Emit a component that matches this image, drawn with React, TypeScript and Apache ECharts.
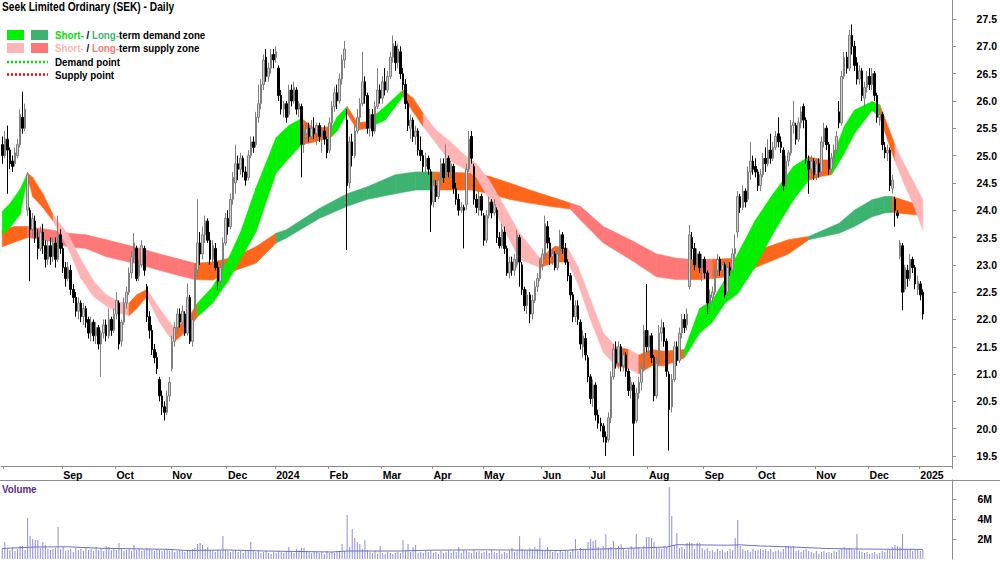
import React, { useEffect, useRef } from "react";
import * as echarts from "echarts";

// ---------- categories (ASX trading days) ----------
const START_DATE = "2023-07-31";
const END_DATE = "2025-01-20";
const HOLIDAYS = [
  "2023-12-25", "2023-12-26", "2024-01-01", "2024-01-26", "2024-03-29", "2024-04-01",
  "2024-04-25", "2024-06-10", "2024-12-25", "2024-12-26", "2025-01-01",
];
const MONTHS = ["Jan", "Feb", "Mar", "Apr", "May", "Jun", "Jul", "Aug", "Sep", "Oct", "Nov", "Dec"];

// ---------- price candles [open, close, low, high] ----------
const ohlc: number[][] = [
  [25.20,25.00,24.85,25.35],[25.00,25.30,24.95,25.45],[25.30,25.10,24.30,25.55],[25.10,24.85,24.75,25.15],[24.90,24.80,24.70,25.00],
  [24.85,25.05,24.80,25.15],[25.00,25.20,24.95,25.30],[25.20,25.75,25.15,25.85],[25.70,25.50,25.40,26.17],[25.50,25.85,25.45,25.95],
  [24.00,24.65,23.90,24.70],[24.00,23.65,22.70,24.05],[23.65,23.85,23.50,23.95],[23.80,23.50,23.40,23.90],[23.50,23.30,23.10,23.65],
  [23.30,23.60,23.25,23.70],[23.60,23.35,23.20,23.75],[23.35,23.10,22.95,23.45],[23.10,23.35,23.00,23.45],[23.35,23.15,23.00,23.50],
  [23.15,23.40,23.05,23.50],[23.40,23.10,22.95,23.50],[23.10,23.55,23.05,23.90],[23.55,23.30,23.20,23.65],[23.30,22.95,22.85,23.40],
  [22.95,22.75,22.60,23.05],[22.75,22.95,22.70,23.05],[22.90,22.55,22.45,23.00],[22.55,22.40,22.30,22.65],[22.40,22.15,22.05,22.50],
  [22.15,22.30,22.00,22.40],[22.30,22.05,21.95,22.35],[22.05,22.20,21.90,22.30],[22.20,21.95,21.85,22.25],[22.00,21.75,21.65,22.05],
  [21.75,21.95,21.60,22.05],[21.95,21.70,21.60,22.00],[21.70,21.85,21.55,21.95],[21.85,21.55,21.45,21.90],[21.55,21.75,20.95,21.80],
  [21.75,21.90,21.65,22.00],[21.90,21.70,21.60,22.00],[21.70,22.00,21.65,22.20],[22.00,21.80,21.70,22.05],[21.80,22.10,21.75,22.20],
  [22.10,22.35,22.00,22.50],[22.30,21.55,21.45,22.35],[21.60,21.95,21.50,22.00],[21.95,22.30,21.90,22.40],[22.30,22.50,22.20,22.60],
  [22.50,22.85,22.45,22.95],[22.85,23.15,22.75,23.25],[23.15,23.40,23.05,23.58],[23.30,22.75,22.70,23.35],[22.80,23.00,22.70,23.10],
  [23.00,23.35,22.95,23.45],[23.30,22.90,22.80,23.35],[22.60,22.05,21.95,22.65],[22.05,21.80,21.65,22.15],[21.80,21.45,21.35,21.90],
  [21.45,21.30,21.20,21.55],[21.30,21.10,21.00,21.40],[20.90,20.60,20.50,20.95],[20.60,20.40,20.25,20.70],[20.40,20.30,20.15,20.50],
  [20.30,20.60,20.25,20.70],[20.60,20.85,20.50,20.95],[21.10,21.60,21.05,21.70],[21.60,21.85,21.50,21.95],[21.85,22.10,21.75,22.20],
  [22.10,21.95,21.85,22.20],[21.95,22.15,21.90,22.25],[22.10,21.75,21.70,22.15],[21.75,22.40,21.70,22.66],[22.40,21.60,21.55,22.45],
  [21.60,22.00,21.50,22.10],[22.20,22.90,22.10,23.00],[22.90,23.40,22.80,24.20],[23.40,23.20,23.00,23.60],[23.20,23.55,23.10,23.70],
  [23.55,23.80,23.40,23.90],[23.80,23.45,23.40,23.85],[23.45,23.10,23.00,23.60],[23.10,23.35,23.00,23.45],[23.30,22.95,22.90,23.40],
  [22.95,22.70,22.55,23.05],[22.70,22.95,22.60,23.05],[22.95,23.40,22.90,23.50],[23.40,23.85,23.35,23.95],[23.85,23.70,23.55,24.00],
  [23.70,24.20,23.65,24.30],[24.20,24.60,24.10,24.70],[24.50,24.85,24.30,25.20],[24.85,24.75,24.55,25.00],[24.75,24.95,24.65,25.05],
  [24.95,24.70,24.60,25.00],[24.70,24.55,24.45,24.80],[24.60,25.00,24.55,25.10],[25.00,25.25,24.95,25.35],[25.25,25.15,25.05,25.35],
  [25.20,25.70,25.15,25.80],[25.70,25.95,25.60,26.30],[25.95,26.30,25.85,26.40],[26.30,26.75,26.20,26.85],[26.80,26.45,26.35,26.95],
  [26.45,26.60,26.35,26.70],[26.60,26.85,26.50,26.95],[26.85,26.75,26.60,26.95],[26.80,26.90,26.70,27.00],[26.60,26.10,26.00,26.65],
  [26.10,25.85,25.75,26.20],[25.85,25.95,25.70,26.00],[25.95,25.70,25.60,26.00],[25.75,26.20,25.70,26.30],[26.20,26.00,25.90,26.30],
  [26.00,26.25,25.95,26.35],[26.20,25.85,25.75,26.25],[25.85,25.95,25.70,26.00],[25.90,25.20,24.60,25.95],[25.20,25.45,25.05,25.55],
  [25.40,25.50,25.30,25.60],[25.50,25.35,25.25,25.60],[25.35,25.50,25.30,25.65],[25.50,25.40,25.30,25.70],[25.40,25.55,25.20,25.60],
  [25.55,25.35,25.25,25.60],[25.35,25.45,25.05,25.50],[25.45,25.30,25.20,25.55],[25.30,25.05,24.95,25.35],[25.10,25.60,25.05,25.70],
  [25.60,25.90,25.50,26.00],[25.90,26.15,25.80,26.25],[26.15,26.00,25.85,26.30],[26.00,26.40,25.95,26.50],[26.40,26.75,26.30,26.85],
  [26.75,26.95,26.60,27.10],[25.65,24.45,23.27,25.85],[24.50,25.25,24.40,25.35],[25.25,25.00,24.80,25.40],[25.00,25.45,24.95,25.55],
  [25.45,25.70,25.40,25.85],[25.70,25.95,25.60,26.05],[25.95,26.35,25.90,26.90],[26.35,26.10,25.95,26.45],[26.10,25.50,25.40,26.15],
  [25.50,25.75,25.35,25.85],[25.75,25.45,25.35,25.85],[25.45,25.90,25.40,26.00],[25.90,26.20,25.85,26.60],[26.20,26.05,25.95,26.30],
  [26.05,26.35,25.95,26.45],[26.35,26.20,26.10,26.60],[26.20,26.45,26.15,26.55],[26.45,26.80,26.40,26.90],[26.80,27.05,26.70,27.20],
  [27.00,26.70,26.55,27.10],[26.70,26.95,26.60,27.05],[26.90,26.50,26.40,27.00],[26.50,26.30,26.20,26.60],[26.30,25.95,25.85,26.40],
  [25.95,25.55,25.45,26.00],[25.50,25.65,25.30,25.75],[25.65,25.35,25.25,25.70],[25.35,25.45,25.20,25.55],[25.45,25.10,25.00,25.50],
  [25.10,25.00,24.90,25.35],[25.00,24.80,24.70,25.10],[24.80,24.95,24.70,25.05],[24.95,24.75,24.65,25.00],[24.70,24.10,23.60,24.75],
  [24.15,24.45,24.05,24.55],[24.45,24.25,24.15,24.55],[24.25,24.55,24.20,24.65],[24.55,24.85,24.45,24.95],[24.85,24.60,24.50,24.95],
  [24.60,24.95,24.55,25.20],[24.95,24.70,24.60,25.00],[24.70,24.85,24.55,24.90],[24.80,24.40,24.30,24.85],[24.40,24.20,24.10,24.50],
  [24.20,24.00,23.90,24.30],[24.00,24.05,23.95,24.15],[24.05,24.00,23.30,24.10],[24.10,24.75,24.00,24.85],[24.75,25.30,24.70,25.45],
  [25.35,24.95,24.85,25.45],[24.80,24.20,24.10,24.85],[24.20,24.05,23.95,24.30],[24.00,24.25,23.90,24.35],[24.25,24.00,23.90,24.30],
  [23.90,23.45,23.35,23.95],[23.45,23.90,23.40,24.00],[23.90,24.15,23.85,24.25],[24.15,23.95,23.85,24.20],[23.95,24.10,23.90,24.20],
  [24.00,23.50,23.40,24.05],[23.50,23.35,23.30,23.60],[23.35,23.65,23.30,23.75],[23.60,23.30,23.20,23.70],[23.30,22.85,22.80,23.35],
  [22.85,23.05,22.75,23.15],[23.05,22.90,22.80,23.15],[22.90,23.10,22.80,23.20],[23.00,23.55,22.95,23.64],[23.50,23.05,22.60,23.55],
  [23.00,22.55,22.45,23.05],[22.55,22.25,22.15,22.60],[22.25,22.45,22.10,22.55],[22.45,22.10,21.93,22.50],[22.10,22.35,22.00,22.45],
  [22.35,22.60,22.30,22.70],[22.60,22.75,22.50,22.85],[22.75,23.00,22.70,23.10],[23.00,23.20,22.90,23.30],[23.15,23.75,23.10,23.90],
  [23.70,23.40,23.30,23.80],[23.40,23.15,23.00,23.50],[23.15,23.20,23.00,23.30],[23.20,22.95,22.90,23.25],[22.95,23.20,22.90,23.30],
  [23.20,23.55,23.15,23.64],[23.55,23.30,23.20,23.60],[23.30,23.05,23.00,23.40],[23.05,22.80,22.70,23.10],[22.80,22.45,22.35,22.85],
  [22.45,22.05,21.95,22.50],[22.05,22.25,21.95,22.35],[22.25,22.00,21.90,22.35],[21.95,21.55,21.45,22.00],[21.50,21.70,21.30,21.80],
  [21.65,21.35,21.25,21.75],[21.30,20.95,20.85,21.35],[20.95,20.55,20.45,21.00],[20.55,20.80,20.40,20.90],[20.80,20.25,20.15,20.85],
  [20.25,20.10,20.00,20.35],[20.10,20.05,19.95,20.20],[20.05,19.85,19.75,20.10],[19.85,19.75,19.50,19.95],[19.80,20.20,19.75,20.30],
  [20.20,20.95,20.10,21.05],[20.95,21.45,20.90,21.55],[21.45,21.20,21.10,21.60],[21.20,21.50,21.10,21.60],[21.50,21.15,21.05,21.55],
  [21.15,21.35,21.05,21.45],[21.35,21.05,20.95,21.40],[21.05,20.70,20.60,21.10],[20.70,20.85,20.55,20.95],[20.80,20.10,19.50,20.85],
  [20.15,20.65,20.10,20.75],[20.65,20.85,20.55,20.95],[20.85,21.10,20.70,21.20],[21.10,21.80,21.05,21.90],[21.80,21.50,21.40,22.65],
  [21.50,21.70,21.35,21.80],[21.70,21.30,21.20,21.75],[21.30,20.60,20.50,21.35],[20.60,21.20,20.55,21.30],[21.20,21.75,21.15,21.90],
  [21.75,21.85,21.60,22.00],[21.85,21.60,21.50,21.95],[21.60,21.05,20.95,21.65],[21.00,20.35,19.60,21.05],[20.40,20.90,20.30,21.00],
  [20.90,21.50,20.85,21.60],[21.50,21.25,21.15,21.60],[21.25,21.75,21.20,21.85],[21.75,22.00,21.65,22.10],[22.00,21.85,21.75,22.10],
  [21.90,22.10,21.80,22.20],[22.60,23.55,22.55,23.73],[23.50,23.30,23.10,23.60],[23.30,23.00,22.90,23.40],[23.00,23.20,22.95,23.30],
  [23.20,22.95,22.85,23.25],[22.95,23.10,22.70,23.20],[23.10,22.85,22.75,23.15],[22.85,22.30,22.10,22.90],[22.30,22.45,22.15,22.55],
  [22.40,22.50,22.30,22.60],[22.50,22.90,22.45,23.00],[22.90,23.10,22.80,23.20],[23.10,22.90,22.80,23.15],[22.90,23.00,22.80,23.05],
  [23.00,22.45,22.40,23.05],[22.50,22.95,22.45,23.00],[22.95,22.90,22.80,23.05],[22.90,23.20,22.85,23.30],[23.20,23.30,23.10,23.55],
  [23.60,24.25,23.50,24.35],[24.25,24.05,23.95,24.30],[24.05,24.35,24.00,24.45],[24.35,24.15,24.05,24.40],[24.20,24.70,24.15,24.80],
  [24.70,24.90,24.55,25.25],[24.90,24.75,24.65,25.00],[24.80,24.70,24.60,24.95],[24.70,24.45,24.35,24.75],[24.45,24.65,24.35,24.75],
  [24.65,24.95,24.60,25.05],[24.95,24.85,24.70,25.15],[24.85,25.10,24.80,25.30],[25.10,24.95,24.85,25.40],[24.95,25.15,24.90,25.25],
  [25.15,25.35,25.10,25.45],[25.40,25.25,25.15,25.70],[25.25,25.15,25.05,25.35],[25.10,24.45,24.35,25.15],[24.50,24.90,24.45,25.00],
  [24.90,25.05,24.80,25.10],[25.05,25.55,25.00,25.65],[25.55,25.60,25.40,26.00],[25.55,25.30,25.20,25.60],[25.30,25.60,25.25,25.70],
  [25.60,25.80,25.50,25.90],[25.90,25.65,25.50,25.95],[25.65,24.95,24.85,25.70],[24.90,24.75,24.30,25.00],[24.75,24.90,24.65,25.00],
  [24.90,24.65,24.55,24.95],[24.65,24.85,24.55,24.95],[24.85,24.70,24.60,24.95],[24.70,25.25,24.65,25.35],[25.25,25.50,25.15,25.60],
  [25.50,25.20,25.10,25.55],[25.20,24.75,24.65,25.25],[24.75,24.95,24.70,25.05],[24.95,25.10,24.85,25.20],[25.10,25.35,25.05,25.45],
  [25.80,25.60,25.50,26.00],[25.60,26.45,25.55,26.55],[26.45,26.80,26.40,26.90],[26.80,26.60,26.50,26.90],[26.60,27.20,26.55,27.30],
  [27.20,27.00,26.85,27.40],[27.00,26.65,26.55,27.10],[26.70,26.40,26.30,26.80],[26.40,26.55,26.30,26.65],[26.55,26.10,26.00,26.60],
  [26.05,26.25,25.90,26.35],[26.25,26.45,26.15,26.55],[26.45,26.30,26.20,26.60],[26.30,26.50,26.20,26.60],[26.50,26.10,26.00,26.55],
  [26.10,25.70,25.60,26.15],[25.70,25.75,25.55,25.85],[25.75,25.20,25.10,25.80],[25.15,25.05,24.95,25.25],[25.05,25.10,24.90,25.20],
  [25.10,24.45,24.35,25.15],[24.40,24.55,24.30,24.65],[24.20,24.00,23.70,24.25],[23.95,23.90,23.85,24.00],[23.15,23.40,23.10,23.45],
  [23.35,22.50,22.17,23.40],[22.55,22.95,22.50,23.00],[22.90,22.75,22.60,23.00],[22.75,23.10,22.70,23.20],[23.10,22.95,22.85,23.15],
  [22.95,22.65,22.55,23.00],[22.55,22.70,22.45,22.80],[22.65,22.45,22.35,22.70],[22.50,22.10,22.00,22.55],
];

// ---------- volume (millions of shares) ----------
const volume: number[] = [
  1.1,1.7,1.0,0.9,1.2,0.8,1.0,1.3,1.3,0.9, 4.1,2.3,2.0,1.9,1.9,1.1,1.7,1.4,1.0,0.9,
  1.0,1.1,3.2,1.0,1.2,0.8,0.9,1.0,0.7,1.1, 0.9,1.0,0.8,1.2,0.9,1.0,0.8,1.2,0.9,1.0,
  0.8,1.3,1.2,0.9,1.0,0.9,1.6,1.0,0.8,0.9, 1.0,0.8,1.4,0.9,1.0,0.8,0.9,1.1,1.0,0.9,
  0.8,1.0,0.9,0.8,0.9,1.0,0.8,0.9,0.7,0.8, 0.9,0.8,0.7,0.9,0.8,1.0,1.1,1.5,1.6,1.4,
  1.0,1.2,0.9,0.8,0.7,0.9,0.8,2.3,0.9,0.8, 0.7,0.8,0.9,0.7,0.8,0.6,0.9,0.8,1.7,0.8,
  0.7,0.8,0.6,0.7,0.8,0.6,0.5,0.7,0.6,0.8, 0.7,0.6,0.8,1.2,0.7,0.6,1.0,0.9,1.1,1.1,
  0.8,0.7,0.6,0.8,0.7,0.6,0.7,0.5,0.8,0.6, 0.7,0.6,0.8,0.7,1.5,0.8,4.4,1.2,3.0,2.1,
  1.7,1.5,1.0,1.9,0.9,0.7,0.6,0.8,0.5,1.3, 0.6,0.5,0.7,0.6,0.5,0.6,0.7,0.6,1.9,0.8,
  1.5,0.7,1.2,1.4,0.6,0.7,0.6,0.8,0.7,0.9, 0.6,0.7,0.5,0.8,0.6,0.7,0.9,0.6,0.8,0.7,
  1.2,0.6,0.9,0.8,0.7,0.6,0.9,0.7,0.8,0.6, 0.7,0.8,0.6,0.9,0.7,0.6,0.8,0.5,0.7,0.6,
  0.8,1.1,0.7,0.8,2.3,1.0,0.8,0.9,1.1,1.0, 1.2,1.0,2.1,0.9,0.8,1.2,0.9,0.7,0.8,0.6,
  0.8,0.7,0.9,0.8,0.7,1.0,2.0,0.8,1.1,1.0, 0.9,1.7,2.0,1.8,1.9,1.2,1.0,1.3,2.5,1.1,
  1.2,1.8,1.0,1.3,1.5,1.1,0.9,1.0,1.3,1.1, 2.5,1.2,1.0,1.3,2.2,2.2,2.1,1.7,1.2,1.1,
  1.0,1.3,1.2,7.2,4.3,1.4,2.6,1.1,1.2,1.0, 1.6,1.7,1.6,1.0,1.6,1.6,1.1,0.9,1.1,0.8,
  0.9,0.7,1.0,0.8,0.9,0.7,0.8,1.0,0.9,2.1, 3.9,1.3,1.0,0.8,0.9,0.7,1.0,0.8,0.9,1.0,
  0.9,1.0,0.8,1.0,0.7,0.8,0.9,0.7,1.0,1.3, 1.3,1.2,1.3,0.8,0.9,0.7,0.9,1.0,0.8,0.7,
  0.6,0.8,0.5,0.7,0.8,0.6,0.7,0.6,0.8,0.7, 0.9,1.0,1.2,1.0,1.1,1.0,0.9,2.5,0.8,0.7,
  0.6,0.7,0.5,0.6,0.7,0.5,0.6,0.8,0.7,0.9, 1.0,1.2,1.4,1.3,1.2,2.5,1.0,0.9,1.0,0.8,
  0.9,1.0,0.8,0.9,
];

// volume average line, read at a few points (day index, millions)
const volAvgIdx = [0, 13, 26, 39, 65, 73, 89, 104, 130, 136, 156, 169, 188, 199, 221, 228, 241, 254, 262, 266, 286, 291, 299, 312, 325, 338, 351, 363];
const volAvgVal = [1.05, 1.2, 1.22, 1.07, 0.97, 0.85, 0.9, 0.8, 0.7, 0.8, 0.8, 0.88, 0.92, 0.9, 0.85, 0.95, 1.03, 1.13, 1.2, 1.43, 1.38, 1.42, 1.3, 1.2, 1.05, 1.0, 0.97, 0.97];

// ---------- short-term zone (day index, two edges, state of following stretch) ----------
const shortIdx = [0,3,7,10,12,16,20,26,31,36,41,46,50,53,57,62,66,68,73,77,83,89,94,100,108,113,118,123,130,132,136,140,144,151,158,162,166,171,176,183,187,192,198,204,212,218,223,227,232,237,242,247,251,256,261,269,275,280,285,290,297,304,312,318,323,327,332,336,343,346,352,355,359,363];
const shortUpper = [23.98,24.12,24.38,24.68,24.60,24.30,23.92,23.55,23.10,22.70,22.45,22.32,22.30,22.45,22.55,22.20,21.95,21.85,22.00,22.30,22.60,23.10,23.60,24.40,25.33,25.55,25.68,25.50,25.53,25.70,25.90,25.60,25.62,25.90,26.20,26.05,25.77,25.47,25.28,24.98,24.85,24.55,24.07,23.58,23.12,23.34,23.30,22.97,22.36,21.75,21.50,21.45,21.35,21.45,21.42,21.45,22.20,22.35,22.73,23.20,23.82,24.30,24.80,24.98,24.92,24.92,25.53,25.83,25.99,25.93,25.20,24.90,24.55,24.19];
const shortLower = [23.55,23.68,23.92,24.60,24.25,24.05,23.80,23.30,22.75,22.42,22.25,22.12,22.07,22.20,22.42,21.95,21.68,21.60,21.80,22.05,22.30,22.70,23.10,23.60,24.68,24.95,25.20,25.25,25.35,25.45,25.77,25.47,25.50,25.65,26.08,25.80,25.53,25.23,24.92,24.74,24.60,24.20,23.64,23.10,22.95,23.05,23.05,22.66,21.99,21.40,21.15,21.10,21.00,21.15,21.15,21.30,21.75,21.95,22.30,22.47,22.97,23.58,24.19,24.55,24.62,24.65,25.04,25.40,25.83,25.70,24.90,24.55,24.13,23.64];
const shortState = ["G","G","G","O","O","O","P","P","P","P","P","P","O","O","P","P","P","O","O","G","G","G","G","G","G","G","O","O","G","G","O","O","G","G","O","O","P","P","P","P","P","P","P","P","O","O","P","P","P","P","O","P","O","O","O","G","G","G","G","G","G","G","G","O","O","G","G","G","G","O","P","P","P"];

// ---------- long-term zone ----------
const longIdx = [0,5,10,19,26,33,41,52,62,70,76,83,92,100,108,112,125,136,144,155,163,170,185,192,200,208,216,224,228,237,248,258,266,271,276,280,290,298,310,318,321,330,336,343,348,351,361];
const longUpper = [23.64,23.70,23.70,23.64,23.58,23.55,23.46,23.33,23.20,23.10,23.03,23.05,23.15,23.33,23.58,23.64,24.03,24.30,24.43,24.65,24.70,24.70,24.68,24.62,24.50,24.37,24.25,24.13,24.07,23.70,23.45,23.20,23.12,23.10,23.10,23.10,23.12,23.27,23.46,23.52,23.58,23.76,24.00,24.19,24.25,24.25,24.10];
const longLower = [23.33,23.42,23.50,23.43,23.33,23.30,23.15,23.03,22.90,22.80,22.73,22.72,22.90,23.03,23.40,23.49,23.85,24.07,24.20,24.30,24.37,24.37,24.37,24.30,24.20,24.13,24.07,24.02,23.82,23.40,23.09,22.78,22.73,22.73,22.73,22.75,22.80,22.97,23.20,23.46,23.49,23.58,23.70,23.88,23.95,23.96,23.91];
const longState = ["O","O","S","S","S","S","S","S","S","S","O","O","O","O","D","D","D","D","D","D","D","O","O","O","O","O","O","S","S","S","S","S","S","O","S","O","O","O","O","D","D","D","D","D","D","O"];

// ---------- axis tick labels ----------
const priceTicks = [19.5, 20, 20.5, 21, 21.5, 22, 22.5, 23, 23.5, 24, 24.5, 25, 25.5, 26, 26.5, 27, 27.5];
const volumeTicks = [2, 4, 6];

const ZONE_COLORS: Record<string, string> = {
  G: "#00f000",
  D: "#3cb371",
  P: "#ffb5b5",
  S: "#ff7878",
  O: "#ff661a",
};
const STATE_KEYS = ["G", "D", "P", "S", "O"];

const FONT = '"Liberation Sans", Arial, sans-serif';
const AXIS_GREY = "#8c8c8c";
const SQUEEZE = 0.85;

function tradingDays(start: string, end: string, holidays: string[]): string[] {
  const out: string[] = [];
  const d = new Date(start + "T00:00:00Z");
  const e = new Date(end + "T00:00:00Z");
  while (d <= e) {
    const wd = d.getUTCDay();
    const s = d.toISOString().slice(0, 10);
    if (wd !== 0 && wd !== 6 && holidays.indexOf(s) < 0) out.push(s);
    d.setUTCDate(d.getUTCDate() + 1);
  }
  return out;
}

function zoneSegments(idx: number[], up: number[], lo: number[], state: string[]) {
  const segs: number[][] = [];
  for (let i = 0; i < idx.length - 1; i++) {
    segs.push([idx[i], up[i], lo[i], idx[i + 1], up[i + 1], lo[i + 1], STATE_KEYS.indexOf(state[i])]);
  }
  return segs;
}

function zoneSeries(name: string, data: number[][]) {
  return {
    name,
    type: "custom",
    xAxisIndex: 0,
    yAxisIndex: 0,
    silent: true,
    z: 1,
    encode: { x: [0, 3], y: [1, 2, 4, 5] },
    data,
    renderItem: (_params: any, api: any) => {
      const a = api.coord([api.value(0), api.value(1)]);
      const b = api.coord([api.value(3), api.value(4)]);
      const c = api.coord([api.value(3), api.value(5)]);
      const d = api.coord([api.value(0), api.value(2)]);
      const col = ZONE_COLORS[STATE_KEYS[api.value(6)]];
      return {
        type: "polygon",
        shape: { points: [a, b, c, d] },
        style: { fill: col, stroke: col, lineWidth: 0.6 },
      };
    },
  };
}

function label(text: string, x: number, y: number, fill: string, rich?: any) {
  return {
    type: "text",
    x,
    y,
    scaleX: SQUEEZE,
    style: {
      text,
      fill,
      fontFamily: FONT,
      fontWeight: "bold",
      fontSize: 11.5,
      verticalAlign: "middle",
      rich,
    },
  };
}

export default function App() {
  const ref = useRef<HTMLDivElement>(null);

  useEffect(() => {
    document.body.style.margin = "0";
    if (!ref.current) return;
    const chart = echarts.init(ref.current, null, { renderer: "svg" });

    const dates = tradingDays(START_DATE, END_DATE, HOLIDAYS);
    const monthStart: boolean[] = dates.map((s, i) => i > 0 && s.slice(0, 7) !== dates[i - 1].slice(0, 7));
    const labelText: string[] = dates.map((s, i) => {
      if (!monthStart[i] || i < 5) return "";
      const m = parseInt(s.slice(5, 7), 10) - 1;
      return m === 0 ? s.slice(0, 4) : MONTHS[m];
    });

    const volAvg = volAvgIdx.map((x, i) => [x, volAvgVal[i]]);

    const axisText = { fontFamily: FONT, fontWeight: "bold" as const, fontSize: 10.5, color: "#000" };
    const richPart = (fill: string) => ({ fill, fontFamily: FONT, fontWeight: "bold", fontSize: 11.5 });

    const option: any = {
      animation: false,
      tooltip: { show: false },
      textStyle: { fontFamily: FONT },
      grid: [
        { left: 1, top: 0, width: 951, height: 466 },
        { left: 1, top: 480, width: 951, height: 79 },
      ],
      xAxis: [
        {
          type: "category",
          gridIndex: 0,
          data: dates,
          boundaryGap: true,
          axisLine: { show: true, lineStyle: { color: AXIS_GREY, width: 1 } },
          axisTick: {
            show: true,
            interval: (i: number) => monthStart[i],
            length: 3,
            lineStyle: { color: AXIS_GREY },
          },
          axisLabel: {
            ...axisText,
            interval: (i: number) => labelText[i] !== "",
            formatter: (_v: string, i: number) => labelText[i],
            align: "left",
            margin: 3,
          },
          splitLine: { show: false },
        },
        {
          type: "category",
          gridIndex: 1,
          data: dates,
          boundaryGap: true,
          show: false,
        },
      ],
      yAxis: [
        {
          type: "value",
          gridIndex: 0,
          position: "right",
          min: 19.317,
          max: 27.848,
          axisLine: { show: true, lineStyle: { color: AXIS_GREY } },
          axisTick: { show: true, length: 4, customValues: priceTicks, lineStyle: { color: AXIS_GREY } },
          axisLabel: {
            ...axisText,
            customValues: priceTicks,
            formatter: (v: number) => v.toFixed(1),
            align: "right",
            margin: 45,
          },
          splitLine: { show: false },
        },
        {
          type: "value",
          gridIndex: 1,
          position: "right",
          min: 0,
          max: 7.9,
          axisLine: { show: true, lineStyle: { color: AXIS_GREY } },
          axisTick: { show: true, length: 4, customValues: volumeTicks, lineStyle: { color: AXIS_GREY } },
          axisLabel: {
            ...axisText,
            customValues: volumeTicks,
            formatter: (v: number) => `${v}M`,
            align: "right",
            margin: 40,
          },
          splitLine: { show: false },
        },
      ],
      series: [
        zoneSeries("long", zoneSegments(longIdx, longUpper, longLower, longState)),
        zoneSeries("short", zoneSegments(shortIdx, shortUpper, shortLower, shortState)),
        {
          name: "price",
          type: "candlestick",
          xAxisIndex: 0,
          yAxisIndex: 0,
          z: 3,
          barWidth: 2,
          data: ohlc,
          itemStyle: {
            color: "#cfcfcf",
            color0: "#000000",
            borderColor: "#7f7f7f",
            borderColor0: "#000000",
            borderWidth: 1,
          },
        },
        {
          name: "volume",
          type: "bar",
          xAxisIndex: 1,
          yAxisIndex: 1,
          barWidth: 1,
          data: volume,
          itemStyle: { color: "#8d8dd6" },
        },
        {
          name: "volAvg",
          type: "line",
          xAxisIndex: 1,
          yAxisIndex: 1,
          data: volAvg,
          symbol: "none",
          lineStyle: { color: "#6f6fc4", width: 1 },
          z: 4,
        },
      ],
      graphic: [
        {
          type: "text",
          x: 2,
          y: 7,
          scaleX: SQUEEZE,
          style: {
            text: "Seek Limited Ordinary (SEK) - Daily",
            fill: "#000",
            fontFamily: FONT,
            fontWeight: "bold",
            fontSize: 12,
            verticalAlign: "middle",
          },
        },
        { type: "rect", shape: { x: 7, y: 30, width: 17, height: 10 }, style: { fill: ZONE_COLORS.G } },
        { type: "rect", shape: { x: 31, y: 30, width: 17, height: 10 }, style: { fill: ZONE_COLORS.D } },
        { type: "rect", shape: { x: 7, y: 43, width: 17, height: 10 }, style: { fill: ZONE_COLORS.P } },
        { type: "rect", shape: { x: 31, y: 43, width: 17, height: 10 }, style: { fill: ZONE_COLORS.S } },
        {
          type: "line",
          shape: { x1: 7, y1: 62, x2: 48, y2: 62 },
          style: { stroke: "#00e000", lineWidth: 2.5, lineDash: [2, 2] },
        },
        {
          type: "line",
          shape: { x1: 7, y1: 74.5, x2: 48, y2: 74.5 },
          style: { stroke: "#ff0000", lineWidth: 2.5, lineDash: [2, 2] },
        },
        label("{g|Short-} / {d|Long-}term demand zone", 55, 35, "#000", { g: richPart("#00e000"), d: richPart("#3cb371") }),
        label("{p|Short-} / {s|Long-}term supply zone", 55, 48, "#000", { p: richPart("#ffb5b5"), s: richPart("#ff7878") }),
        label("Demand point", 55, 62, "#000"),
        label("Supply point", 55, 75, "#000"),
        {
          type: "line",
          shape: { x1: 0, y1: 480.5, x2: 1000, y2: 480.5 },
          style: { stroke: AXIS_GREY, lineWidth: 1 },
        },
        label("Volume", 2, 489, "#5a2a8a"),
      ],
    };

    chart.setOption(option);
    return () => chart.dispose();
  }, []);

  return <div ref={ref} style={{ width: 1000, height: 562, background: "#fff" }} />;
}
